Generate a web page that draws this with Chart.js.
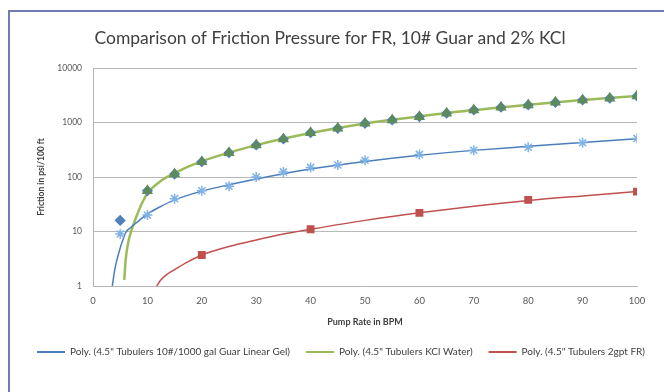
<!DOCTYPE html>
<html>
<head>
<meta charset="utf-8">
<script src="https://cdn.jsdelivr.net/npm/chart.js@4"></script>
<style>
    html, body { margin: 0; padding: 0; background: #fff; }
    #wrap { position: relative; width: 664px; height: 392px; overflow: hidden; }
    #frame {
        position: absolute; left: 8px; top: 10px; width: 720px; height: 460px;
        border-left: 2px solid #6f7cae; border-top: 2px solid #6f7cae;
    }
    canvas { position: absolute; left: 0; top: 0; }
</style>
</head>
<body>
<div id="wrap">
    <div id="frame"></div>
    <canvas id="chart" width="664" height="392"></canvas>
</div>
<script>
// Chart values
const yTicks = [1, 10, 100, 1000, 10000];

// 4.5" Tubulers 10#/1000 gal Guar Linear Gel (star markers)
const guarX = [5, 10, 15, 20, 25, 30, 35, 40, 45, 50, 60, 70, 80, 90, 100];
const guarY = [9, 20, 40, 56, 68, 100, 124, 150, 166, 203, 260, 310, 352, 425, 510];

// 4.5" Tubulers KCl Water (diamonds under triangles)
const kclX = [5, 10, 15, 20, 25, 30, 35, 40, 45, 50, 55, 60, 65, 70, 75, 80, 85, 90, 95, 100];
const kclY = [16, 56, 113, 190, 279, 386, 498, 650, 782, 966, 1110, 1280, 1480, 1695, 1900, 2095, 2345, 2585, 2780, 3060];
const triX = [10, 15, 20, 25, 30, 35, 40, 45, 50, 55, 60, 65, 70, 75, 80, 85, 90, 95, 100];
const triY = [56, 113, 190, 279, 386, 498, 650, 782, 966, 1110, 1280, 1480, 1695, 1900, 2095, 2345, 2585, 2780, 3060];

// 4.5" Tubulers 2gpt FR (square markers)
const frX = [20, 40, 60, 80, 100];
const frY = [3.7, 11, 22, 38, 54];

// trendlines
const guarTrendX = [3.55, 4, 4.5, 5, 5.5, 6, 7, 8, 10, 12.5, 15, 20, 25, 30, 35, 40, 50, 60, 70, 80, 90, 100];
const guarTrendY = [1, 2, 3.3, 5, 7, 9.5, 12, 14.5, 21, 29, 38, 55, 72, 92, 115, 140, 192, 250, 308, 365, 430, 505];
const kclTrendX = [5.75, 6, 6.5, 7, 8, 9, 10, 12.5, 15, 20, 25, 30, 40, 50, 60, 70, 80, 90, 100];
const kclTrendY = [1.3, 3, 6.5, 10, 19, 33, 50, 85, 118, 195, 280, 385, 640, 960, 1290, 1690, 2110, 2580, 3080];
const frTrendX = [11.7, 12.5, 13.5, 15, 17.5, 20, 25, 30, 35, 40, 50, 60, 70, 80, 90, 100];
const frTrendY = [1, 1.3, 1.6, 2.0, 2.8, 3.7, 5.3, 7.0, 9, 11, 16, 22, 29, 37, 45, 54];

const labels = [
    'Poly. (4.5" Tubulers 10#/1000 gal Guar Linear Gel)',
    'Poly. (4.5" Tubulers KCl Water)',
    'Poly. (4.5" Tubulers 2gpt FR)'
];

const FONT = 'Lato, "Open Sans", sans-serif';

function pts(xs, ys) {
    return xs.map((x, i) => ({ x: x, y: ys[i] }));
}

function trend(label, xs, ys, color, width) {
    return {
        type: 'line',
        label: label,
        data: pts(xs, ys),
        borderColor: color,
        backgroundColor: color,
        borderWidth: width,
        pointRadius: 0,
        cubicInterpolationMode: 'monotone',
        order: 3
    };
}

function markers(xs, ys, style, radius, fill, stroke, order) {
    return {
        type: 'scatter',
        data: pts(xs, ys),
        showLine: false,
        pointStyle: style,
        pointRadius: radius,
        pointBackgroundColor: fill,
        pointBorderColor: stroke,
        pointBorderWidth: 1.5,
        order: order
    };
}

// nudge title and legend so they sit where Excel put them
const nudgeBoxes = {
    id: 'nudgeBoxes',
    afterLayout(chart) {
        const lg = chart.legend;
        lg.left += 9; lg.right += 9;
        lg.top += 4; lg.bottom += 4;
        const t = chart.titleBlock;
        if (t) { t.left -= 2; t.right -= 2; }
    }
};

const ctx = document.getElementById('chart').getContext('2d');
new Chart(ctx, {
    type: 'scatter',
    data: {
        datasets: [
            trend(labels[0], guarTrendX, guarTrendY, '#4a7ebb', 1.5),
            trend(labels[1], kclTrendX, kclTrendY, '#9bbb59', 2.5),
            trend(labels[2], frTrendX, frTrendY, '#c0504d', 1.5),
            markers(kclX, kclY, 'rectRot', 4.5, '#4f81bd', '#4f81bd', 1),
            markers(triX, triY, 'triangle', 5, '#5e8a5c', '#5e8a5c', 0),
            markers(guarX, guarY, 'star', 5, '#7fb2e5', '#7fb2e5', 1),
            markers(frX, frY, 'rect', 4.5, '#c0504d', '#c0504d', 1)
        ]
    },
    plugins: [nudgeBoxes],
    options: {
        responsive: false,
        animation: false,
        layout: { padding: { left: 0, right: 0, top: 0, bottom: 29 } },
        plugins: {
            title: {
                display: true,
                text: 'Comparison of Friction Pressure for FR, 10# Guar and 2% KCl',
                color: '#404040',
                font: { family: FONT, size: 17.5, weight: 'normal' },
                padding: { top: 27.5, bottom: 19.5 }
            },
            legend: {
                position: 'bottom',
                labels: {
                    color: '#404040',
                    font: { family: FONT, size: 10 },
                    boxWidth: 28,
                    boxHeight: 2,
                    padding: 16,
                    generateLabels: (chart) => Chart.defaults.plugins.legend.labels.generateLabels(chart)
                        .filter(l => l.datasetIndex < 3)
                        .map(l => Object.assign(l, { lineWidth: 0 }))
                }
            },
            tooltip: { enabled: false }
        },
        scales: {
            x: {
                type: 'linear',
                min: 0,
                max: 100,
                ticks: {
                    stepSize: 10,
                    color: '#595959',
                    padding: 9,
                    font: { family: FONT, size: 9.5 }
                },
                grid: { display: false, drawTicks: false },
                border: { display: true, color: '#b4b4b4', width: 1 },
                title: {
                    display: true,
                    text: 'Pump Rate in BPM',
                    color: '#404040',
                    font: { family: FONT, size: 9, weight: 'bold' },
                    padding: { top: 6, bottom: 0 }
                },
                afterFit: (scale) => {
                    scale.height = 41;
                    scale.paddingRight = 27;
                }
            },
            y: {
                type: 'logarithmic',
                min: 1,
                max: 10000,
                afterBuildTicks: (scale) => {
                    scale.ticks = yTicks.map(v => ({ value: v }));
                },
                ticks: {
                    color: '#595959',
                    padding: 11,
                    font: { family: FONT, size: 8.5 },
                    callback: (v) => String(v)
                },
                grid: { color: '#b8b8b8', lineWidth: 1, drawTicks: false },
                border: { display: true, color: '#b4b4b4', width: 1 },
                title: {
                    display: true,
                    text: 'Friction in psi/100 ft',
                    color: '#404040',
                    font: { family: FONT, size: 8.5, weight: 'bold' },
                    padding: { top: 36, bottom: 0 }
                },
                afterFit: (scale) => { scale.width = 93; }
            }
        }
    }
});
</script>
</body>
</html>
